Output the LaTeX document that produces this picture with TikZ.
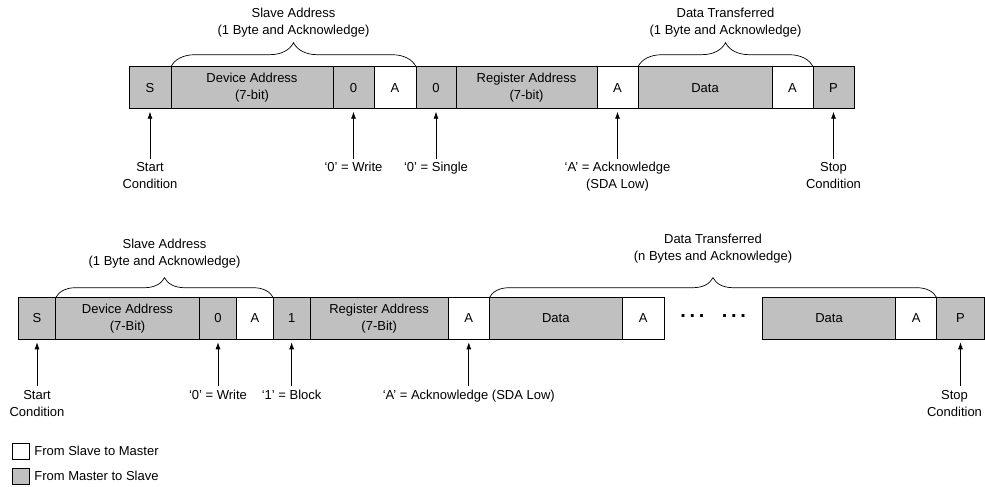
\documentclass[tikz,border=0pt]{standalone}
\usepackage{fontspec}
\setmainfont{Liberation Sans}
\usetikzlibrary{positioning, decorations.pathreplacing, arrows.meta}

\definecolor{cellgray}{RGB}{192,192,192}
\tikzset{
    cell/.style={draw, fill=cellgray, minimum height=42pt, inner sep=0pt, outer sep=0pt, align=center},
    ackcell/.style={cell, fill=white},
    brc/.style={decorate, decoration={brace, amplitude=#1}},
    arr/.style={-{Latex[length=7pt, width=5pt]}, shorten >=3pt},
    lbl/.style={align=center}
}

\begin{document}
\begin{tikzpicture}[x=1pt, y=-1pt, node distance=0pt, line width=0.7pt, font=\fontsize{13}{17}\selectfont]
    \useasboundingbox (0,0) rectangle (985,487);

    % single write
    \node[cell, minimum width=42pt, anchor=north west] (start 1) at (129,66.7) {S};
    \node[cell, minimum width=162pt, right=of start 1]  (dev 1)   {Device Address\\(7-bit)};
    \node[cell, minimum width=41pt, right=of dev 1]     (rw 1)    {0};
    \node[ackcell, minimum width=42pt, right=of rw 1]   (ack 1)   {A};
    \node[cell, minimum width=40pt, right=of ack 1]     (mode 1)  {0};
    \node[cell, minimum width=141pt, right=of mode 1]   (reg 1)   {Register Address\\(7-bit)};
    \node[ackcell, minimum width=41pt, right=of reg 1]  (ack 2)   {A};
    \node[cell, minimum width=134pt, right=of ack 2]    (data 1)  {Data};
    \node[ackcell, minimum width=41pt, right=of data 1] (ack 3)   {A};
    \node[cell, minimum width=41pt, right=of ack 3]     (stop 1)  {P};

    \draw[brc=24pt] (dev 1.north west) -- (ack 1.north east)
        node[lbl, midway, above=26pt] (slave 1) {Slave Address\\(1 Byte and Acknowledge)};
    \draw[brc=24pt] (data 1.north west) -- (ack 3.north east)
        node[lbl, midway, above=26pt] (xfer 1) {Data Transferred\\(1 Byte and Acknowledge)};

    \node[lbl, below=50pt of start 1] (lstart 1) {Start\\Condition};
    \node[lbl, below=50pt of rw 1]    (lwrite 1) {‘0’ = Write};
    \node[lbl, below=50pt of mode 1]  (lmode 1)  {‘0’ = Single};
    \node[lbl, below=50pt of ack 2]   (lack 1)   {‘A’ = Acknowledge\\(SDA Low)};
    \node[lbl, below=50pt of stop 1]  (lstop 1)  {Stop\\Condition};

    \draw[arr] (lstart 1) -- (start 1);
    \draw[arr] (lwrite 1) -- (rw 1);
    \draw[arr] (lmode 1)  -- (mode 1);
    \draw[arr] (lack 1)   -- (ack 2);
    \draw[arr] (lstop 1)  -- (stop 1);

    % block write
    \node[cell, minimum height=41.6pt, minimum width=37.4pt, anchor=north west] (start 2) at (18.3,297.7) {S};
    \node[cell, minimum height=41.6pt, minimum width=143.6pt, right=of start 2] (dev 2)  {Device Address\\(7-Bit)};
    \node[cell, minimum height=41.6pt, minimum width=37.4pt, right=of dev 2]    (rw 2)   {0};
    \node[ackcell, minimum height=41.6pt, minimum width=36.6pt, right=of rw 2]  (ack 4)  {A};
    \node[cell, minimum height=41.6pt, minimum width=36.7pt, right=of ack 4]    (mode 2) {1};
    \node[cell, minimum height=41.6pt, minimum width=138.3pt, right=of mode 2]  (reg 2)  {Register Address\\(7-Bit)};
    \node[ackcell, minimum height=41.6pt, minimum width=41pt, right=of reg 2]   (ack 5)  {A};
    \node[cell, minimum height=41.6pt, minimum width=133pt, right=of ack 5]     (data 2) {Data};
    \node[ackcell, minimum height=41.6pt, minimum width=41.7pt, right=of data 2] (ack 6) {A};
    \node[right=16pt of ack 6, yshift=2.5pt, inner sep=0pt, font=\fontsize{20}{20}\bfseries\selectfont] (dots)
        {.\hspace{3.7pt}.\hspace{3.7pt}.\hspace{17.4pt}.\hspace{3.7pt}.\hspace{3.7pt}.};
    \node[cell, minimum height=41.6pt, minimum width=133.4pt, right=98.3pt of ack 6] (data 3) {Data};
    \node[ackcell, minimum height=41.6pt, minimum width=41pt, right=of data 3]   (ack 7)  {A};
    \node[cell, minimum height=41.6pt, minimum width=47.6pt, right=of ack 7]     (stop 2) {P};

    \draw[brc=20pt] (dev 2.north west) -- (ack 4.north east)
        node[lbl, midway, above=26pt] (slave 2) {Slave Address\\(1 Byte and Acknowledge)};
    \draw[brc=20pt] (data 2.north west) -- (ack 7.north east)
        node[lbl, midway, above=31pt] (xfer 2) {Data Transferred\\(n Bytes and Acknowledge)};

    \node[lbl, below=47pt of start 2] (lstart 2) {Start\\Condition};
    \node[lbl, below=47pt of rw 2]    (lwrite 2) {‘0’ = Write};
    \node[lbl, below=47pt of mode 2]  (lmode 2)  {‘1’ = Block};
    \node[lbl, below=47pt of ack 5]   (lack 2)   {‘A’ = Acknowledge (SDA Low)};
    \node[lbl, below=47pt of stop 2, xshift=-6pt] (lstop 2) {Stop\\Condition};

    \draw[arr] (lstart 2) -- (start 2);
    \draw[arr] (lwrite 2) -- (rw 2);
    \draw[arr] (lmode 2)  -- (mode 2);
    \draw[arr] (lack 2)   -- (ack 5);
    \draw[arr] (lstop 2.north -| stop 2) -- (stop 2);

    % legend
    \node[ackcell, minimum width=17pt, minimum height=16pt, anchor=north west] (key slave) at (12,443) {};
    \node[right=5pt of key slave, inner sep=0pt] (key slave text) {From Slave to Master};
    \node[cell, minimum width=17pt, minimum height=16pt, anchor=north west] (key master) at (12,468) {};
    \node[right=5pt of key master, inner sep=0pt] (key master text) {From Master to Slave};
\end{tikzpicture}
\end{document}
